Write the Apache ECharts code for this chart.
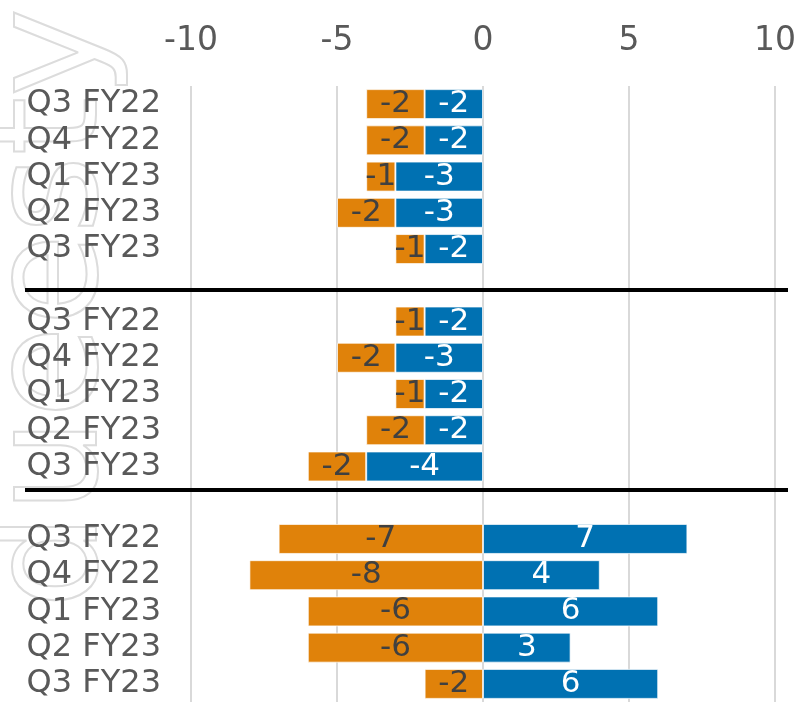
<!DOCTYPE html>
<html>
<head>
<meta charset="utf-8">
<script src="https://cdn.jsdelivr.net/npm/echarts@6/dist/echarts.min.js"></script>
<style>
html, body { margin: 0; padding: 0; background: #fff; }
#main { width: 799px; height: 702px; }
</style>
</head>
<body>
<div id="main"></div>
<script>
// categories, blanks ('') are the gaps between the three groups
var categories = [
    'Q3 FY22', 'Q4 FY22', 'Q1 FY23', 'Q2 FY23', 'Q3 FY23', '',
    'Q3 FY22', 'Q4 FY22', 'Q1 FY23', 'Q2 FY23', 'Q3 FY23', '',
    'Q3 FY22', 'Q4 FY22', 'Q1 FY23', 'Q2 FY23', 'Q3 FY23'
];
var blueValues = [-2, -2, -3, -3, -2, '-', -2, -3, -2, -2, -4, '-', 7, 4, 6, 3, 6];
var orangeValues = [-2, -2, -1, -2, -1, '-', -1, -2, -1, -2, -2, '-', -7, -8, -6, -6, -2];
var xTicks = [-10, -5, 0, 5, 10];
// separator positions, in category units
var separators = [5.13, 10.66];

var font = 'DejaVu Sans';

var option = {
    animation: false,
    textStyle: { fontFamily: font },
    grid: {
        left: 191,
        right: 20,
        top: 86,
        height: 618,
        containLabel: false
    },
    xAxis: {
        type: 'value',
        position: 'top',
        min: xTicks[0],
        max: xTicks[xTicks.length - 1],
        interval: 5,
        axisLine: { show: false },
        axisTick: { show: false },
        splitLine: { lineStyle: { color: '#d9d9d9', width: 2 } },
        axisLabel: { fontSize: 33, color: '#595959', margin: 28, fontFamily: font }
    },
    yAxis: {
        type: 'category',
        inverse: true,
        data: categories,
        axisLine: { show: false },
        axisTick: { show: false },
        axisLabel: { interval: 0, fontSize: 32, color: '#595959', margin: 30, fontFamily: font }
    },
    series: [
        {
            name: 'blue',
            type: 'bar',
            stack: 'total',
            barWidth: 30,
            data: blueValues,
            itemStyle: { color: '#0071b2', borderColor: 'rgba(255,255,255,0.7)', borderWidth: 1 },
            label: { show: true, position: 'inside', color: '#fff', fontSize: 31, fontFamily: font }
        },
        {
            name: 'orange',
            type: 'bar',
            stack: 'total',
            barWidth: 30,
            data: orangeValues,
            itemStyle: { color: '#e0820a', borderColor: 'rgba(255,255,255,0.7)', borderWidth: 1 },
            label: { show: true, position: 'inside', color: '#404040', fontSize: 31, fontFamily: font }
        }
    ]
};

var myChart = echarts.init(document.getElementById('main'));
myChart.setOption(option);

// separator lines and faint watermark
function catY(pos) {
    var i = Math.floor(pos);
    var y0 = myChart.convertToPixel({ yAxisIndex: 0 }, i);
    var y1 = myChart.convertToPixel({ yAxisIndex: 0 }, i + 1);
    return y0 + (pos - i) * (y1 - y0);
}

var graphics = [{
    type: 'text',
    x: 132,
    y: 8,
    rotation: Math.PI / 2,
    z: -1,
    silent: true,
    style: {
        text: 'dueesty',
        font: '150px ' + font,
        textAlign: 'right',
        textVerticalAlign: 'bottom',
        fill: 'none',
        stroke: '#dcdcdc',
        lineWidth: 2
    }
}];
separators.forEach(function (s) {
    var y = Math.round(catY(s));
    graphics.push({
        type: 'line',
        z: 10,
        shape: { x1: 25, y1: y, x2: 788, y2: y },
        style: { stroke: '#000', lineWidth: 4 }
    });
});
myChart.setOption({ graphic: graphics });
</script>
</body>
</html>
